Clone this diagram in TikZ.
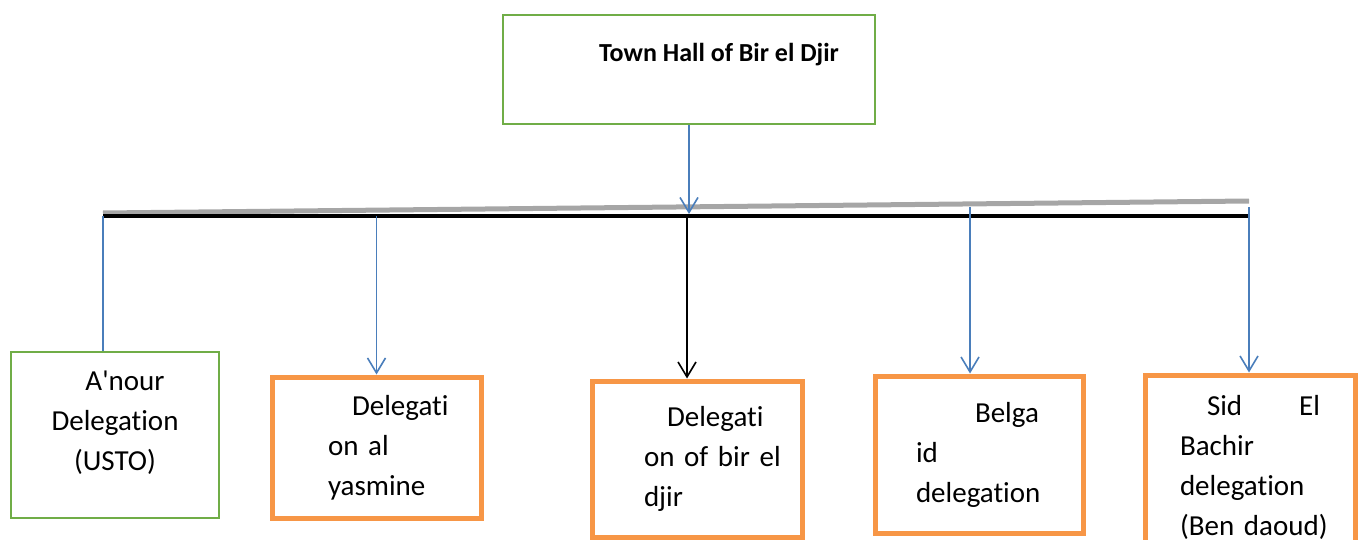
\documentclass[tikz,border=0pt]{standalone}
\usepackage{fontspec}
\setmainfont{Carlito}[Ligatures={NoCommon}]
\usepackage{tikz}
\usetikzlibrary{
  arrows.meta
}
\definecolor{bdGreen}{HTML}{70AD47}
\definecolor{bdOrange}{HTML}{F79646}
\definecolor{bdBlue}{HTML}{4A7EBB}
\definecolor{bdGray}{HTML}{A6A6A6}
\tikzset{
  bdnode/.style={
    draw, rectangle, font=\fontsize{14.5}{20}\selectfont, align=left
  },
  hallbox/.style={bdnode, draw=bdGreen, line width=1.25pt, font=\fontsize{13}{16}\selectfont\bfseries},
  anourbox/.style={bdnode, draw=bdGreen, line width=1.25pt, align=center},
  delbox/.style={bdnode, draw=bdOrange, line width=2.5pt},
  link/.style={-{Straight Barb[length=7.5pt, width=9pt]}, bdBlue, line width=0.8pt},
  darklink/.style={link, black},
  plainlink/.style={bdBlue, line width=0.8pt},
  busline/.style={line width=2pt, black},
  shadowline/.style={line width=2.5pt, bdGray}
}

\begin{document}
\begin{tikzpicture}[x=0.5pt, y=-0.5pt]
  \useasboundingbox (0,0) rectangle (1364,540);
  % top level
  \node[hallbox, minimum width=186pt, minimum height=54.5pt, text depth=17pt] (hall) at (689,69.5) {\hspace*{30pt}Town Hall of Bir el Djir};
  % delegations
  \node[anourbox, minimum width=104pt, minimum height=83pt, text depth=14pt] (anour) at (115,435) {\hspace*{10pt}A\textquotesingle nour\\Delegation\\(USTO)};
  \node[delbox, minimum height=70.5pt, inner xsep=28pt, text width=48.5pt] (yasmine) at (376.5,447.5) {\mbox{\hspace{12pt}Delegati}\\\mbox{on al}\\\mbox{yasmine}};
  \node[delbox, minimum height=78pt, inner xsep=26pt, text width=53pt] (birdjir) at (697,459) {\mbox{\hspace{11.5pt}Delegati}\\\mbox{on of bir el}\\\mbox{djir}};
  \node[delbox, minimum height=78.5pt, inner xsep=20.5pt, text width=63pt] (belgaid) at (979,454.5) {\mbox{\hspace{29.5pt}Belga}\\\mbox{id}\\\mbox{delegation}};
  \node[delbox, minimum height=92pt, inner xsep=17.5pt, text width=70pt] (sidbachir) at (1250,467) {\hspace*{13.5pt}Sid\hfill El\\\mbox{Bachir}\\\mbox{delegation}\\\mbox{(Ben daoud)}};
  % bus
  \coordinate (shadeL) at (103,213);
  \coordinate (shadeR) at (1249,201);
  \coordinate (busL) at (103,216);
  \coordinate (busR) at (1249,216);
  \coordinate (dropB) at (970,207);
  \coordinate (dropS) at (1249,207);
  \draw[shadowline] (shadeL) -- (shadeR);
  \draw[busline] (busL) -- (busR);
  % connectors
  \draw[link] (hall.south) -- (hall.south |- 0,214);
  \draw[plainlink] (busL) -- (busL |- anour.north);
  \draw[link] (yasmine.north |- busL) -- (yasmine.north);
  \draw[darklink] (birdjir.north -| 687,0) ++(0,-162) -- (birdjir.north -| 687,0);
  \draw[link] (dropB) -- (dropB |- belgaid.north);
  \draw[link] (dropS) -- (dropS |- sidbachir.north);
\end{tikzpicture}
\end{document}
